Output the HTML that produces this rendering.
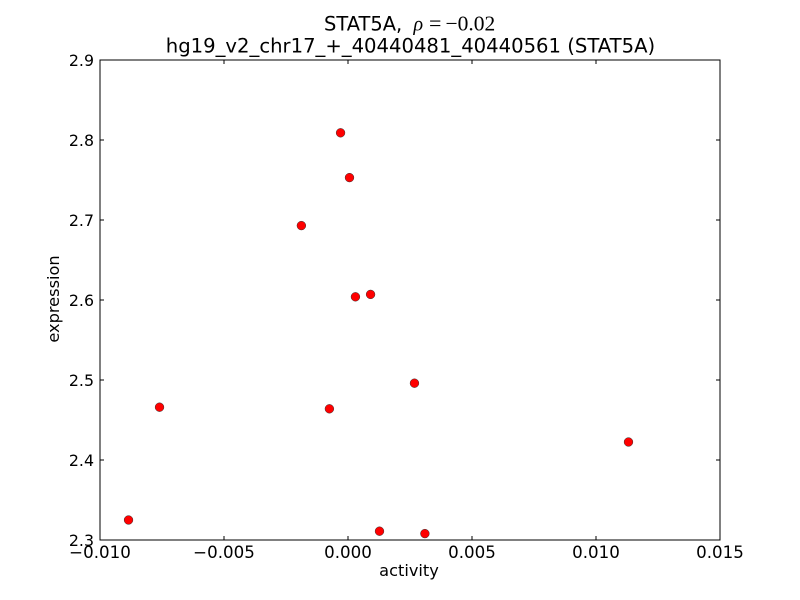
<!DOCTYPE html>
<html>
<head>
<meta charset="utf-8">
<style>
html,body{margin:0;padding:0;background:#fff;width:800px;height:600px;overflow:hidden}
svg{display:block}
text{font-family:"DejaVu Sans","Liberation Sans",sans-serif;fill:#000}
</style>
</head>
<body>
<svg id="chart" width="800" height="600" viewBox="0 0 800 600" xmlns="http://www.w3.org/2000/svg">
<rect width="800" height="600" fill="#fff"/>
<text y="30.5" font-size="19.44"><tspan x="324">STAT5A,</tspan><tspan x="413.5" font-family="Liberation Serif" font-style="italic" font-size="20">ρ</tspan><tspan x="429" font-family="Liberation Serif" font-size="22">=</tspan><tspan x="445.5" font-family="Liberation Serif" font-size="21.5">−0.02</tspan></text>
<text x="410.5" y="52.5" text-anchor="middle" font-size="19.62">hg19_v2_chr17_+_40440481_40440561 (STAT5A)</text>
<text x="409" y="576" text-anchor="middle" font-size="16.2">activity</text>
<text transform="translate(59,299) rotate(-90)" text-anchor="middle" font-size="16.2">expression</text>
<g id="ticks"></g>
<g id="points"></g>
<rect x="100" y="60" width="620" height="480" fill="none" stroke="#000" stroke-width="1"/>
</svg>
<script>
const activityValues = [-0.0003, 0.00006, -0.00188, 0.0003, 0.00091, 0.00268, -0.0076, -0.00075, 0.01131, -0.00885, 0.00127, 0.0031];
const expressionValues = [2.809, 2.753, 2.693, 2.604, 2.607, 2.496, 2.466, 2.464, 2.4225, 2.325, 2.311, 2.308];
const xTickValues = [-0.01, -0.005, 0, 0.005, 0.01, 0.015];
const xTickLabels = ['−0.010', '−0.005', '0.000', '0.005', '0.010', '0.015'];
const yTickValues = [2.3, 2.4, 2.5, 2.6, 2.7, 2.8, 2.9];
const yTickLabels = ['2.3', '2.4', '2.5', '2.6', '2.7', '2.8', '2.9'];

const xDomain = [-0.01, 0.015];
const yDomain = [2.3, 2.9];
const plot = { left: 100, right: 720, top: 60, bottom: 540 };
const NS = 'http://www.w3.org/2000/svg';

function xScale(v) {
  return plot.left + (v - xDomain[0]) / (xDomain[1] - xDomain[0]) * (plot.right - plot.left);
}
function yScale(v) {
  return plot.bottom - (v - yDomain[0]) / (yDomain[1] - yDomain[0]) * (plot.bottom - plot.top);
}
function make(tag, attrs, parent) {
  const el = document.createElementNS(NS, tag);
  for (const k in attrs) el.setAttribute(k, attrs[k]);
  parent.appendChild(el);
  return el;
}

const tickGroup = document.getElementById('ticks');
const pointGroup = document.getElementById('points');
const tickStyle = { stroke: '#000', 'stroke-width': 1, 'shape-rendering': 'crispEdges' };

xTickValues.forEach(function (v, i) {
  const x = Math.round(xScale(v));
  const bottomTick = make('line', Object.assign({ x1: x, x2: x, y1: plot.bottom, y2: plot.bottom - 4 }, tickStyle), tickGroup);
  
  
  const topTick = make('line', Object.assign({ x1: x, x2: x, y1: plot.top, y2: plot.top + 4 }, tickStyle), tickGroup);
  
  
  const label = make('text', { x: x, y: 558, 'text-anchor': 'middle', 'font-size': 16.67 }, tickGroup);
  
  
  label.textContent = xTickLabels[i];
});

yTickValues.forEach(function (v, i) {
  const y = Math.round(yScale(v));
  const leftTick = make('line', Object.assign({ x1: plot.left, x2: plot.left + 4, y1: y, y2: y }, tickStyle), tickGroup);
  
  
  const rightTick = make('line', Object.assign({ x1: plot.right, x2: plot.right - 4, y1: y, y2: y }, tickStyle), tickGroup);
  
  
  const label = make('text', { x: 94, y: y + 6, 'text-anchor': 'end', 'font-size': 15.8 }, tickGroup);
  
  
  label.textContent = yTickLabels[i];
});

activityValues.forEach(function (v, i) {
  const point = make('circle', {
    cx: xScale(v),
    cy: yScale(expressionValues[i]),
    r: 4.4,
    fill: '#ff0000',
    stroke: '#333',
    'stroke-width': 0.5
  }, pointGroup);
  
  
});
</script>
</body>
</html>
